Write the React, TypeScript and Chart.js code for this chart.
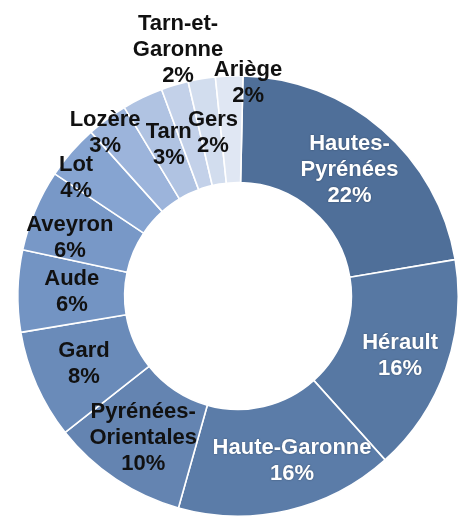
import React, { useEffect, useRef } from "react";
import { Chart, registerables } from "chart.js";

Chart.register(...registerables);

const departements = [
  "Hautes-Pyrénées",
  "Hérault",
  "Haute-Garonne",
  "Pyrénées-Orientales",
  "Gard",
  "Aude",
  "Aveyron",
  "Lot",
  "Lozère",
  "Tarn",
  "Tarn-et-Garonne",
  "Gers",
  "Ariège",
];

const parts = [22, 16, 16, 10, 8, 6, 6, 4, 3, 3, 2, 2, 2];

const labelLines = [
  ["Hautes-", "Pyrénées"],
  ["Hérault"],
  ["Haute-Garonne"],
  ["Pyrénées-", "Orientales"],
  ["Gard"],
  ["Aude"],
  ["Aveyron"],
  ["Lot"],
  ["Lozère"],
  ["Tarn"],
  ["Tarn-et-", "Garonne"],
  ["Gers"],
  ["Ariège"],
];

const sliceColors = [
  "#4f6f99",
  "#5778a3",
  "#5b7ca8",
  "#6484b1",
  "#6a8bb9",
  "#7394c3",
  "#7898c7",
  "#86a4d1",
  "#9cb4db",
  "#b0c3e2",
  "#c3d1e9",
  "#d2ddee",
  "#e0e7f3",
];

const textColors = [
  "#ffffff",
  "#ffffff",
  "#ffffff",
  "#111111",
  "#111111",
  "#111111",
  "#111111",
  "#111111",
  "#111111",
  "#111111",
  "#111111",
  "#111111",
  "#111111",
];

// label placement: fraction of outer radius, angle nudge (degrees)
const labelRadiusFactor = [0.766, 0.785, 0.79, 0.776, 0.765, 0.755, 0.808, 0.91, 0.955, 0.755, 1.15, 0.75, 0.968];
const labelAngleNudge = [0.5, 1, -5, 0, 0, 0, -3.8, -4.8, -2.7, 1.1, 3, 0.8, 5];

const labelPlugin = {
  id: "sliceLabels",
  afterDatasetsDraw(chart: any) {
    const ctx = chart.ctx;
    const meta = chart.getDatasetMeta(0);
    ctx.save();
    ctx.font = "bold 22px 'Liberation Sans', Arial, sans-serif";
    ctx.textAlign = "center";
    ctx.textBaseline = "middle";
    const lineH = 26;
    meta.data.forEach((arc: any, i: number) => {
      const { x, y, startAngle, endAngle, outerRadius } = arc.getProps(
        ["x", "y", "startAngle", "endAngle", "outerRadius"],
        true
      );
      const mid = (startAngle + endAngle) / 2 + (labelAngleNudge[i] * Math.PI) / 180;
      const r = outerRadius * labelRadiusFactor[i];
      const cx = x + r * Math.cos(mid);
      const cy = y + r * Math.sin(mid);
      const lines = [...labelLines[i], parts[i] + "%"];
      const top = cy - ((lines.length - 1) * lineH) / 2;
      ctx.fillStyle = textColors[i];
      if (textColors[i] === "#ffffff") {
        ctx.shadowColor = "rgba(0,0,0,0.35)";
        ctx.shadowBlur = 2;
      } else {
        ctx.shadowColor = "rgba(0,0,0,0)";
        ctx.shadowBlur = 0;
      }
      lines.forEach((t, k) => ctx.fillText(t, cx, top + k * lineH));
    });
    ctx.restore();
  },
};

export default function App() {
  const ref = useRef<HTMLCanvasElement>(null);
  useEffect(() => {
    if (!ref.current) return;
    const chart = new Chart(ref.current, {
      type: "doughnut",
      data: {
        labels: departements,
        datasets: [
          {
            data: parts,
            backgroundColor: sliceColors,
            borderColor: "#ffffff",
            borderWidth: 1.6,
          },
        ],
      },
      options: {
        responsive: false,
        animation: false,
        rotation: 1.3,
        cutout: "51.5%",
        layout: { padding: { left: 17, right: 0, top: 75, bottom: 2 } },
        plugins: {
          legend: { display: false },
          tooltip: { enabled: false },
        },
      },
      plugins: [labelPlugin],
    });
    return () => chart.destroy();
  }, []);
  return (
    <div style={{ position: "absolute", left: 0, top: 0, width: 459, height: 519, background: "#ffffff" }}>
      <canvas ref={ref} width={459} height={519} />
    </div>
  );
}
